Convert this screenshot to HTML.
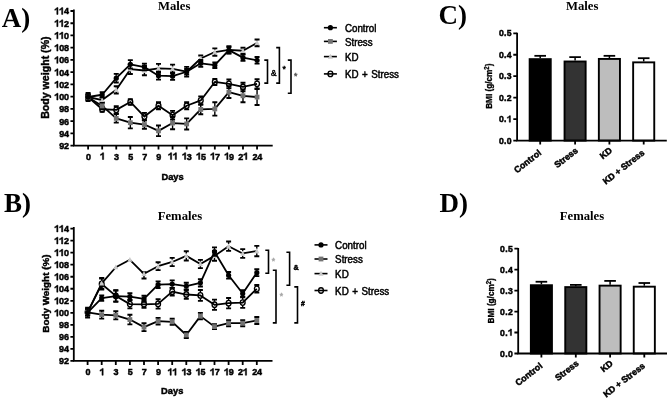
<!DOCTYPE html><html><head><meta charset="utf-8"><style>html,body{margin:0;padding:0;background:#fff;width:669px;height:398px;overflow:hidden}svg{display:block;will-change:transform}</style></head><body>
<svg width="669" height="398" viewBox="0 0 669 398">
<rect width="669" height="398" fill="#fff"/>
<text transform="translate(1.8 26.6)" font-family="Liberation Serif, serif" font-size="27" font-weight="bold">A)</text>
<text transform="translate(4 212)" font-family="Liberation Serif, serif" font-size="27" font-weight="bold">B)</text>
<text transform="translate(438.6 24.4)" font-family="Liberation Serif, serif" font-size="27" font-weight="bold">C)</text>
<text transform="translate(439.6 211.8)" font-family="Liberation Serif, serif" font-size="27" font-weight="bold">D)</text>
<text transform="translate(157.9 9.6)" font-family="Liberation Serif, serif" font-size="12.7" font-weight="bold">Males</text>
<text transform="translate(157.7 220.1)" font-family="Liberation Serif, serif" font-size="12.7" font-weight="bold">Females</text>
<text transform="translate(566 9.6)" font-family="Liberation Serif, serif" font-size="12.7" font-weight="bold">Males</text>
<text transform="translate(559.8 220.1)" font-family="Liberation Serif, serif" font-size="12.7" font-weight="bold">Females</text>
<path d="M73.85 10.4V145.6H271.8" fill="none" stroke="#000" stroke-width="1.8" stroke-linecap="square"/>
<path d="M70.45 145.6H73.85M70.45 133.36H73.85M70.45 121.13H73.85M70.45 108.89H73.85M70.45 96.65H73.85M70.45 84.42H73.85M70.45 72.18H73.85M70.45 59.95H73.85M70.45 47.71H73.85M70.45 35.47H73.85M70.45 23.24H73.85M70.45 11H73.85M88.1 145.6V149.6M102.18 145.6V149.6M116.26 145.6V149.6M130.34 145.6V149.6M144.42 145.6V149.6M158.5 145.6V149.6M172.58 145.6V149.6M186.66 145.6V149.6M200.74 145.6V149.6M214.82 145.6V149.6M228.9 145.6V149.6M242.98 145.6V149.6M257.06 145.6V149.6" stroke="#000" stroke-width="1.8"/>
<text transform="translate(59.14 149) scale(1 1.1)" font-family="Liberation Sans, sans-serif" font-size="9" font-weight="bold" stroke="#000" stroke-width="0.45" letter-spacing="-0.2">92</text>
<text transform="translate(59.14 136.76) scale(1 1.1)" font-family="Liberation Sans, sans-serif" font-size="9" font-weight="bold" stroke="#000" stroke-width="0.45" letter-spacing="-0.2">94</text>
<text transform="translate(59.14 124.53) scale(1 1.1)" font-family="Liberation Sans, sans-serif" font-size="9" font-weight="bold" stroke="#000" stroke-width="0.45" letter-spacing="-0.2">96</text>
<text transform="translate(59.14 112.29) scale(1 1.1)" font-family="Liberation Sans, sans-serif" font-size="9" font-weight="bold" stroke="#000" stroke-width="0.45" letter-spacing="-0.2">98</text>
<path transform="translate(54.33 100.05) scale(0.00439 -0.00483)" d="M840 0L560 0L560 1045Q380 905 110 835L110 1090Q430 1190 610 1409L840 1409Z" fill="#000" stroke="#000" stroke-width="102.4"/>
<text transform="translate(59.14 100.05) scale(1 1.1)" font-family="Liberation Sans, sans-serif" font-size="9" font-weight="bold" stroke="#000" stroke-width="0.45" letter-spacing="-0.2">00</text>
<path transform="translate(54.33 87.82) scale(0.00439 -0.00483)" d="M840 0L560 0L560 1045Q380 905 110 835L110 1090Q430 1190 610 1409L840 1409Z" fill="#000" stroke="#000" stroke-width="102.4"/>
<text transform="translate(59.14 87.82) scale(1 1.1)" font-family="Liberation Sans, sans-serif" font-size="9" font-weight="bold" stroke="#000" stroke-width="0.45" letter-spacing="-0.2">02</text>
<path transform="translate(54.33 75.58) scale(0.00439 -0.00483)" d="M840 0L560 0L560 1045Q380 905 110 835L110 1090Q430 1190 610 1409L840 1409Z" fill="#000" stroke="#000" stroke-width="102.4"/>
<text transform="translate(59.14 75.58) scale(1 1.1)" font-family="Liberation Sans, sans-serif" font-size="9" font-weight="bold" stroke="#000" stroke-width="0.45" letter-spacing="-0.2">04</text>
<path transform="translate(54.33 63.35) scale(0.00439 -0.00483)" d="M840 0L560 0L560 1045Q380 905 110 835L110 1090Q430 1190 610 1409L840 1409Z" fill="#000" stroke="#000" stroke-width="102.4"/>
<text transform="translate(59.14 63.35) scale(1 1.1)" font-family="Liberation Sans, sans-serif" font-size="9" font-weight="bold" stroke="#000" stroke-width="0.45" letter-spacing="-0.2">06</text>
<path transform="translate(54.33 51.11) scale(0.00439 -0.00483)" d="M840 0L560 0L560 1045Q380 905 110 835L110 1090Q430 1190 610 1409L840 1409Z" fill="#000" stroke="#000" stroke-width="102.4"/>
<text transform="translate(59.14 51.11) scale(1 1.1)" font-family="Liberation Sans, sans-serif" font-size="9" font-weight="bold" stroke="#000" stroke-width="0.45" letter-spacing="-0.2">08</text>
<path transform="translate(54.33 38.87) scale(0.00439 -0.00483)" d="M840 0L560 0L560 1045Q380 905 110 835L110 1090Q430 1190 610 1409L840 1409Z" fill="#000" stroke="#000" stroke-width="102.4"/>
<path transform="translate(59.14 38.87) scale(0.00439 -0.00483)" d="M840 0L560 0L560 1045Q380 905 110 835L110 1090Q430 1190 610 1409L840 1409Z" fill="#000" stroke="#000" stroke-width="102.4"/>
<text transform="translate(63.94 38.87) scale(1 1.1)" font-family="Liberation Sans, sans-serif" font-size="9" font-weight="bold" stroke="#000" stroke-width="0.45" letter-spacing="-0.2">0</text>
<path transform="translate(54.33 26.64) scale(0.00439 -0.00483)" d="M840 0L560 0L560 1045Q380 905 110 835L110 1090Q430 1190 610 1409L840 1409Z" fill="#000" stroke="#000" stroke-width="102.4"/>
<path transform="translate(59.14 26.64) scale(0.00439 -0.00483)" d="M840 0L560 0L560 1045Q380 905 110 835L110 1090Q430 1190 610 1409L840 1409Z" fill="#000" stroke="#000" stroke-width="102.4"/>
<text transform="translate(63.94 26.64) scale(1 1.1)" font-family="Liberation Sans, sans-serif" font-size="9" font-weight="bold" stroke="#000" stroke-width="0.45" letter-spacing="-0.2">2</text>
<path transform="translate(54.33 14.4) scale(0.00439 -0.00483)" d="M840 0L560 0L560 1045Q380 905 110 835L110 1090Q430 1190 610 1409L840 1409Z" fill="#000" stroke="#000" stroke-width="102.4"/>
<path transform="translate(59.14 14.4) scale(0.00439 -0.00483)" d="M840 0L560 0L560 1045Q380 905 110 835L110 1090Q430 1190 610 1409L840 1409Z" fill="#000" stroke="#000" stroke-width="102.4"/>
<text transform="translate(63.94 14.4) scale(1 1.1)" font-family="Liberation Sans, sans-serif" font-size="9" font-weight="bold" stroke="#000" stroke-width="0.45" letter-spacing="-0.2">4</text>
<text transform="translate(85.9 159.5) scale(1 1.1)" font-family="Liberation Sans, sans-serif" font-size="9" font-weight="bold" stroke="#000" stroke-width="0.45" letter-spacing="-0.2">0</text>
<path transform="translate(99.98 159.5) scale(0.00439 -0.00483)" d="M840 0L560 0L560 1045Q380 905 110 835L110 1090Q430 1190 610 1409L840 1409Z" fill="#000" stroke="#000" stroke-width="102.4"/>
<text transform="translate(114.06 159.5) scale(1 1.1)" font-family="Liberation Sans, sans-serif" font-size="9" font-weight="bold" stroke="#000" stroke-width="0.45" letter-spacing="-0.2">3</text>
<text transform="translate(128.14 159.5) scale(1 1.1)" font-family="Liberation Sans, sans-serif" font-size="9" font-weight="bold" stroke="#000" stroke-width="0.45" letter-spacing="-0.2">5</text>
<text transform="translate(142.22 159.5) scale(1 1.1)" font-family="Liberation Sans, sans-serif" font-size="9" font-weight="bold" stroke="#000" stroke-width="0.45" letter-spacing="-0.2">7</text>
<text transform="translate(156.3 159.5) scale(1 1.1)" font-family="Liberation Sans, sans-serif" font-size="9" font-weight="bold" stroke="#000" stroke-width="0.45" letter-spacing="-0.2">9</text>
<path transform="translate(167.97 159.5) scale(0.00439 -0.00483)" d="M840 0L560 0L560 1045Q380 905 110 835L110 1090Q430 1190 610 1409L840 1409Z" fill="#000" stroke="#000" stroke-width="102.4"/>
<path transform="translate(172.78 159.5) scale(0.00439 -0.00483)" d="M840 0L560 0L560 1045Q380 905 110 835L110 1090Q430 1190 610 1409L840 1409Z" fill="#000" stroke="#000" stroke-width="102.4"/>
<path transform="translate(182.05 159.5) scale(0.00439 -0.00483)" d="M840 0L560 0L560 1045Q380 905 110 835L110 1090Q430 1190 610 1409L840 1409Z" fill="#000" stroke="#000" stroke-width="102.4"/>
<text transform="translate(186.86 159.5) scale(1 1.1)" font-family="Liberation Sans, sans-serif" font-size="9" font-weight="bold" stroke="#000" stroke-width="0.45" letter-spacing="-0.2">3</text>
<path transform="translate(196.13 159.5) scale(0.00439 -0.00483)" d="M840 0L560 0L560 1045Q380 905 110 835L110 1090Q430 1190 610 1409L840 1409Z" fill="#000" stroke="#000" stroke-width="102.4"/>
<text transform="translate(200.94 159.5) scale(1 1.1)" font-family="Liberation Sans, sans-serif" font-size="9" font-weight="bold" stroke="#000" stroke-width="0.45" letter-spacing="-0.2">5</text>
<path transform="translate(210.21 159.5) scale(0.00439 -0.00483)" d="M840 0L560 0L560 1045Q380 905 110 835L110 1090Q430 1190 610 1409L840 1409Z" fill="#000" stroke="#000" stroke-width="102.4"/>
<text transform="translate(215.02 159.5) scale(1 1.1)" font-family="Liberation Sans, sans-serif" font-size="9" font-weight="bold" stroke="#000" stroke-width="0.45" letter-spacing="-0.2">7</text>
<path transform="translate(224.29 159.5) scale(0.00439 -0.00483)" d="M840 0L560 0L560 1045Q380 905 110 835L110 1090Q430 1190 610 1409L840 1409Z" fill="#000" stroke="#000" stroke-width="102.4"/>
<text transform="translate(229.1 159.5) scale(1 1.1)" font-family="Liberation Sans, sans-serif" font-size="9" font-weight="bold" stroke="#000" stroke-width="0.45" letter-spacing="-0.2">9</text>
<text transform="translate(238.37 159.5) scale(1 1.1)" font-family="Liberation Sans, sans-serif" font-size="9" font-weight="bold" stroke="#000" stroke-width="0.45" letter-spacing="-0.2">2</text>
<path transform="translate(243.18 159.5) scale(0.00439 -0.00483)" d="M840 0L560 0L560 1045Q380 905 110 835L110 1090Q430 1190 610 1409L840 1409Z" fill="#000" stroke="#000" stroke-width="102.4"/>
<text transform="translate(252.45 159.5) scale(1 1.1)" font-family="Liberation Sans, sans-serif" font-size="9" font-weight="bold" stroke="#000" stroke-width="0.45" letter-spacing="-0.2">24</text>
<polyline points="88.1,97 102.18,109.24 116.26,109.85 130.34,101.96 144.42,116.58 158.5,105.75 172.58,115.18 186.66,105.75 200.74,100.43 214.82,81.95 228.9,83.85 242.98,86.97 257.06,83.85" fill="none" stroke="#000" stroke-width="1.8" stroke-linejoin="round"/>
<path d="M116.26 106.18V106.95M116.26 112.75V113.52M144.42 112.91V113.68M144.42 119.48V120.25M158.5 102.08V102.85M158.5 108.65V109.42M172.58 110.89V112.28M172.58 118.08V119.46M186.66 102.08V102.85M186.66 108.65V109.42M200.74 96.39V97.53M200.74 103.33V104.47M214.82 78.89V79.05M214.82 84.85V85.01M228.9 79.57V80.95M228.9 86.75V88.13M242.98 82.69V84.07M242.98 89.87V91.25M257.06 79.26V80.95M257.06 86.75V88.44" stroke="#000" stroke-width="1.4" fill="none"/>
<path d="M85.6 94.56H90.6M85.6 99.45H90.6M99.68 106.79H104.68M99.68 111.69H104.68M113.76 106.18H118.76M113.76 113.52H118.76M127.84 99.21H132.84M127.84 104.71H132.84M141.92 112.91H146.92M141.92 120.25H146.92M156 102.08H161M156 109.42H161M170.08 110.89H175.08M170.08 119.46H175.08M184.16 102.08H189.16M184.16 109.42H189.16M198.24 96.39H203.24M198.24 104.47H203.24M212.32 78.89H217.32M212.32 85.01H217.32M226.4 79.57H231.4M226.4 88.13H231.4M240.48 82.69H245.48M240.48 91.25H245.48M254.56 79.26H259.56M254.56 88.44H259.56" stroke="#000" stroke-width="1.9" fill="none"/>
<ellipse cx="88.1" cy="97" rx="2.4" ry="2.75" fill="none" stroke="#000" stroke-width="1.35"/>
<ellipse cx="102.18" cy="109.24" rx="2.4" ry="2.75" fill="none" stroke="#000" stroke-width="1.35"/>
<ellipse cx="116.26" cy="109.85" rx="2.4" ry="2.75" fill="none" stroke="#000" stroke-width="1.35"/>
<ellipse cx="130.34" cy="101.96" rx="2.4" ry="2.75" fill="none" stroke="#000" stroke-width="1.35"/>
<ellipse cx="144.42" cy="116.58" rx="2.4" ry="2.75" fill="none" stroke="#000" stroke-width="1.35"/>
<ellipse cx="158.5" cy="105.75" rx="2.4" ry="2.75" fill="none" stroke="#000" stroke-width="1.35"/>
<ellipse cx="172.58" cy="115.18" rx="2.4" ry="2.75" fill="none" stroke="#000" stroke-width="1.35"/>
<ellipse cx="186.66" cy="105.75" rx="2.4" ry="2.75" fill="none" stroke="#000" stroke-width="1.35"/>
<ellipse cx="200.74" cy="100.43" rx="2.4" ry="2.75" fill="none" stroke="#000" stroke-width="1.35"/>
<ellipse cx="214.82" cy="81.95" rx="2.4" ry="2.75" fill="none" stroke="#000" stroke-width="1.35"/>
<ellipse cx="228.9" cy="83.85" rx="2.4" ry="2.75" fill="none" stroke="#000" stroke-width="1.35"/>
<ellipse cx="242.98" cy="86.97" rx="2.4" ry="2.75" fill="none" stroke="#000" stroke-width="1.35"/>
<ellipse cx="257.06" cy="83.85" rx="2.4" ry="2.75" fill="none" stroke="#000" stroke-width="1.35"/>
<polyline points="88.1,97 102.18,100.06 116.26,89.85 130.34,69.17 144.42,70.51 158.5,68.37 172.58,68.86 186.66,71.74 200.74,58.52 214.82,52.04 228.9,49.89 242.98,50.75 257.06,42.92" fill="none" stroke="#000" stroke-width="1.8" stroke-linejoin="round"/>
<path d="M88.1 94.56V94.8M88.1 99.2V99.45M102.18 97.62V97.86M102.18 102.26V102.51M116.26 86.18V87.65M116.26 92.05V93.52M130.34 64.39V66.97M130.34 71.37V73.94M144.42 65.74V68.31M144.42 72.71V75.29M158.5 63.84V66.17M158.5 70.57V72.9M172.58 64.64V66.66M172.58 71.06V73.08M186.66 66.84V69.54M186.66 73.94V76.63M200.74 55.46V56.32M200.74 60.72V61.58M214.82 48.37V49.84M214.82 54.24V55.71M228.9 46.22V47.69M228.9 52.09V53.57M242.98 47.69V48.55M242.98 52.95V53.81M257.06 39.55V40.72M257.06 45.12V46.28" stroke="#000" stroke-width="1.4" fill="none"/>
<path d="M85.6 94.56H90.6M85.6 99.45H90.6M99.68 97.62H104.68M99.68 102.51H104.68M113.76 86.18H118.76M113.76 93.52H118.76M127.84 64.39H132.84M127.84 73.94H132.84M141.92 65.74H146.92M141.92 75.29H146.92M156 63.84H161M156 72.9H161M170.08 64.64H175.08M170.08 73.08H175.08M184.16 66.84H189.16M184.16 76.63H189.16M198.24 55.46H203.24M198.24 61.58H203.24M212.32 48.37H217.32M212.32 55.71H217.32M226.4 46.22H231.4M226.4 53.57H231.4M240.48 47.69H245.48M240.48 53.81H245.48M254.56 39.55H259.56M254.56 46.28H259.56" stroke="#000" stroke-width="1.9" fill="none"/>
<path d="M88.1 94.2L90.6 99.1L85.6 99.1Z" fill="#c8c8c8"/>
<path d="M102.18 97.26L104.68 102.16L99.68 102.16Z" fill="#c8c8c8"/>
<path d="M116.26 87.05L118.76 91.95L113.76 91.95Z" fill="#c8c8c8"/>
<path d="M130.34 66.37L132.84 71.27L127.84 71.27Z" fill="#c8c8c8"/>
<path d="M144.42 67.71L146.92 72.61L141.92 72.61Z" fill="#c8c8c8"/>
<path d="M158.5 65.57L161 70.47L156 70.47Z" fill="#c8c8c8"/>
<path d="M172.58 66.06L175.08 70.96L170.08 70.96Z" fill="#c8c8c8"/>
<path d="M186.66 68.94L189.16 73.84L184.16 73.84Z" fill="#c8c8c8"/>
<path d="M200.74 55.72L203.24 60.62L198.24 60.62Z" fill="#c8c8c8"/>
<path d="M214.82 49.24L217.32 54.14L212.32 54.14Z" fill="#c8c8c8"/>
<path d="M228.9 47.09L231.4 51.99L226.4 51.99Z" fill="#c8c8c8"/>
<path d="M242.98 47.95L245.48 52.85L240.48 52.85Z" fill="#c8c8c8"/>
<path d="M257.06 40.12L259.56 45.02L254.56 45.02Z" fill="#c8c8c8"/>
<polyline points="88.1,97.31 102.18,105.94 116.26,118.36 130.34,122.7 144.42,124.54 158.5,130.84 172.58,123.07 186.66,123.92 200.74,109.42 214.82,108.94 228.9,92.11 242.98,95.78 257.06,97.07" fill="none" stroke="#000" stroke-width="1.8" stroke-linejoin="round"/>
<path d="M88.1 94.86V95.11M88.1 99.51V99.76M102.18 102.88V103.74M102.18 108.14V109M116.26 114.07V116.16M116.26 120.56V122.64M130.34 117.01V120.5M130.34 124.9V128.39M144.42 120.25V122.34M144.42 126.74V128.82M158.5 125.52V128.64M158.5 133.04V136.16M172.58 116.95V120.87M172.58 125.27V129.19M186.66 118.42V121.72M186.66 126.12V129.43M200.74 104.53V107.22M200.74 111.62V114.32M214.82 102.21V106.74M214.82 111.14V115.67M228.9 86.24V89.91M228.9 94.31V97.98M242.98 89.36V93.58M242.98 97.98V102.21M257.06 89.11V94.87M257.06 99.27V105.02" stroke="#000" stroke-width="1.4" fill="none"/>
<path d="M85.6 94.86H90.6M85.6 99.76H90.6M99.68 102.88H104.68M99.68 109H104.68M113.76 114.07H118.76M113.76 122.64H118.76M127.84 117.01H132.84M127.84 128.39H132.84M141.92 120.25H146.92M141.92 128.82H146.92M156 125.52H161M156 136.16H161M170.08 116.95H175.08M170.08 129.19H175.08M184.16 118.42H189.16M184.16 129.43H189.16M198.24 104.53H203.24M198.24 114.32H203.24M212.32 102.21H217.32M212.32 115.67H217.32M226.4 86.24H231.4M226.4 97.98H231.4M240.48 89.36H245.48M240.48 102.21H245.48M254.56 89.11H259.56M254.56 105.02H259.56" stroke="#000" stroke-width="1.9" fill="none"/>
<rect x="85.7" y="94.91" width="4.8" height="4.8" fill="#737373"/>
<rect x="99.78" y="103.54" width="4.8" height="4.8" fill="#737373"/>
<rect x="113.86" y="115.96" width="4.8" height="4.8" fill="#737373"/>
<rect x="127.94" y="120.3" width="4.8" height="4.8" fill="#737373"/>
<rect x="142.02" y="122.14" width="4.8" height="4.8" fill="#737373"/>
<rect x="156.1" y="128.44" width="4.8" height="4.8" fill="#737373"/>
<rect x="170.18" y="120.67" width="4.8" height="4.8" fill="#737373"/>
<rect x="184.26" y="121.52" width="4.8" height="4.8" fill="#737373"/>
<rect x="198.34" y="107.02" width="4.8" height="4.8" fill="#737373"/>
<rect x="212.42" y="106.54" width="4.8" height="4.8" fill="#737373"/>
<rect x="226.5" y="89.71" width="4.8" height="4.8" fill="#737373"/>
<rect x="240.58" y="93.38" width="4.8" height="4.8" fill="#737373"/>
<rect x="254.66" y="94.67" width="4.8" height="4.8" fill="#737373"/>
<polyline points="88.1,97 102.18,94.74 116.26,78.16 130.34,64.33 144.42,67.03 158.5,75.65 172.58,76.2 186.66,71.74 200.74,63.35 214.82,65.19 228.9,50.14 242.98,57.66 257.06,60.3" fill="none" stroke="#000" stroke-width="1.8" stroke-linejoin="round"/>
<path d="M88.1 93.03V94.6M88.1 99.4V100.98M102.18 92.29V92.34M102.18 97.14V97.19M116.26 73.88V75.76M116.26 80.56V82.44M130.34 60.17V61.93M130.34 66.73V68.49M144.42 63.66V64.63M144.42 69.43V70.39M158.5 71.68V73.25M158.5 78.05V79.63M172.58 72.53V73.8M172.58 78.6V79.87M186.66 68.98V69.34M186.66 74.14V74.49M200.74 59.99V60.95M200.74 65.75V66.72M214.82 62.44V62.79M214.82 67.59V67.94M228.9 47.08V47.74M228.9 52.54V53.2M242.98 54.61V55.26M242.98 60.06V60.72M257.06 56.93V57.9M257.06 62.7V63.66" stroke="#000" stroke-width="1.4" fill="none"/>
<path d="M85.6 93.03H90.6M85.6 100.98H90.6M99.68 92.29H104.68M99.68 97.19H104.68M113.76 73.88H118.76M113.76 82.44H118.76M127.84 60.17H132.84M127.84 68.49H132.84M141.92 63.66H146.92M141.92 70.39H146.92M156 71.68H161M156 79.63H161M170.08 72.53H175.08M170.08 79.87H175.08M184.16 68.98H189.16M184.16 74.49H189.16M198.24 59.99H203.24M198.24 66.72H203.24M212.32 62.44H217.32M212.32 67.94H217.32M226.4 47.08H231.4M226.4 53.2H231.4M240.48 54.61H245.48M240.48 60.72H245.48M254.56 56.93H259.56M254.56 63.66H259.56" stroke="#000" stroke-width="1.9" fill="none"/>
<circle cx="88.1" cy="97" r="2.6" fill="#000"/>
<circle cx="102.18" cy="94.74" r="2.6" fill="#000"/>
<circle cx="116.26" cy="78.16" r="2.6" fill="#000"/>
<circle cx="130.34" cy="64.33" r="2.6" fill="#000"/>
<circle cx="144.42" cy="67.03" r="2.6" fill="#000"/>
<circle cx="158.5" cy="75.65" r="2.6" fill="#000"/>
<circle cx="172.58" cy="76.2" r="2.6" fill="#000"/>
<circle cx="186.66" cy="71.74" r="2.6" fill="#000"/>
<circle cx="200.74" cy="63.35" r="2.6" fill="#000"/>
<circle cx="214.82" cy="65.19" r="2.6" fill="#000"/>
<circle cx="228.9" cy="50.14" r="2.6" fill="#000"/>
<circle cx="242.98" cy="57.66" r="2.6" fill="#000"/>
<circle cx="257.06" cy="60.3" r="2.6" fill="#000"/>
<text transform="translate(161.5 179.5) scale(1 1.05)" font-family="Liberation Sans, sans-serif" font-size="9.3" font-weight="bold" stroke="#000" stroke-width="0.45">Days</text>
<text transform="translate(49.2 77.6) rotate(-90)" font-family="Liberation Sans, sans-serif" font-size="10.6" font-weight="bold" text-anchor="middle" stroke="#000" stroke-width="0.45">Body weight (%)</text>
<path d="M323.9 27.7h13" stroke="#000" stroke-width="1.6"/>
<circle cx="330.4" cy="27.7" r="2.6" fill="#000"/>
<text transform="translate(344.9 31.9) scale(1 1.05)" font-family="Liberation Sans, sans-serif" font-size="9.8" stroke="#000" stroke-width="0.45" word-spacing="0.8">Control</text>
<path d="M323.9 41.4h13" stroke="#000" stroke-width="1.6"/>
<rect x="328" y="39" width="4.8" height="4.8" fill="#737373"/>
<text transform="translate(344.9 45.6) scale(1 1.05)" font-family="Liberation Sans, sans-serif" font-size="9.8" stroke="#000" stroke-width="0.45" word-spacing="0.8">Stress</text>
<path d="M323.9 56.6h13" stroke="#000" stroke-width="1.6"/>
<path d="M330.4 53.8L332.9 58.7L327.9 58.7Z" fill="#c8c8c8"/>
<text transform="translate(344.9 60.8) scale(1 1.05)" font-family="Liberation Sans, sans-serif" font-size="9.8" stroke="#000" stroke-width="0.45" word-spacing="0.8">KD</text>
<path d="M323.9 73.9h13" stroke="#000" stroke-width="1.6"/>
<ellipse cx="330.4" cy="73.9" rx="2.4" ry="2.75" fill="none" stroke="#000" stroke-width="1.35"/>
<text transform="translate(344.9 78.1) scale(1 1.05)" font-family="Liberation Sans, sans-serif" font-size="9.8" stroke="#000" stroke-width="0.45" word-spacing="0.8">KD + Stress</text>
<path d="M264.3 60.1H267.5V83.1H264.3" fill="none" stroke="#000" stroke-width="1.6"/>
<path d="M276.2 47.6H279.4V83.1H276.2" fill="none" stroke="#000" stroke-width="1.6"/>
<path d="M287.8 60.1H291V93.2H287.8" fill="none" stroke="#000" stroke-width="1.6"/>
<text transform="translate(270.9 75.6) scale(1 1.05)" font-family="Liberation Sans, sans-serif" font-size="8.2" stroke="#000" stroke-width="0.45">&amp;</text>
<text transform="translate(282.6 72.4) scale(1 1.05)" font-family="Liberation Sans, sans-serif" font-size="8.6" stroke="#000" stroke-width="0.45">*</text>
<text transform="translate(294.1 79.3) scale(1 1.05)" font-family="Liberation Sans, sans-serif" font-size="8.6" fill="#5a5a5a" stroke="#5a5a5a" stroke-width="0.45">*</text>
<path d="M73.8 228V360.95H271.6" fill="none" stroke="#000" stroke-width="1.8" stroke-linecap="square"/>
<path d="M70.4 360.95H73.8M70.4 348.92H73.8M70.4 336.89H73.8M70.4 324.85H73.8M70.4 312.82H73.8M70.4 300.79H73.8M70.4 288.76H73.8M70.4 276.73H73.8M70.4 264.7H73.8M70.4 252.66H73.8M70.4 240.63H73.8M70.4 228.6H73.8M87.6 360.95V364.95M101.7 360.95V364.95M115.8 360.95V364.95M129.9 360.95V364.95M144 360.95V364.95M158.1 360.95V364.95M172.2 360.95V364.95M186.3 360.95V364.95M200.4 360.95V364.95M214.5 360.95V364.95M228.6 360.95V364.95M242.7 360.95V364.95M256.8 360.95V364.95" stroke="#000" stroke-width="1.8"/>
<text transform="translate(59.09 364.35) scale(1 1.1)" font-family="Liberation Sans, sans-serif" font-size="9" font-weight="bold" stroke="#000" stroke-width="0.45" letter-spacing="-0.2">92</text>
<text transform="translate(59.09 352.32) scale(1 1.1)" font-family="Liberation Sans, sans-serif" font-size="9" font-weight="bold" stroke="#000" stroke-width="0.45" letter-spacing="-0.2">94</text>
<text transform="translate(59.09 340.29) scale(1 1.1)" font-family="Liberation Sans, sans-serif" font-size="9" font-weight="bold" stroke="#000" stroke-width="0.45" letter-spacing="-0.2">96</text>
<text transform="translate(59.09 328.25) scale(1 1.1)" font-family="Liberation Sans, sans-serif" font-size="9" font-weight="bold" stroke="#000" stroke-width="0.45" letter-spacing="-0.2">98</text>
<path transform="translate(54.28 316.22) scale(0.00439 -0.00483)" d="M840 0L560 0L560 1045Q380 905 110 835L110 1090Q430 1190 610 1409L840 1409Z" fill="#000" stroke="#000" stroke-width="102.4"/>
<text transform="translate(59.09 316.22) scale(1 1.1)" font-family="Liberation Sans, sans-serif" font-size="9" font-weight="bold" stroke="#000" stroke-width="0.45" letter-spacing="-0.2">00</text>
<path transform="translate(54.28 304.19) scale(0.00439 -0.00483)" d="M840 0L560 0L560 1045Q380 905 110 835L110 1090Q430 1190 610 1409L840 1409Z" fill="#000" stroke="#000" stroke-width="102.4"/>
<text transform="translate(59.09 304.19) scale(1 1.1)" font-family="Liberation Sans, sans-serif" font-size="9" font-weight="bold" stroke="#000" stroke-width="0.45" letter-spacing="-0.2">02</text>
<path transform="translate(54.28 292.16) scale(0.00439 -0.00483)" d="M840 0L560 0L560 1045Q380 905 110 835L110 1090Q430 1190 610 1409L840 1409Z" fill="#000" stroke="#000" stroke-width="102.4"/>
<text transform="translate(59.09 292.16) scale(1 1.1)" font-family="Liberation Sans, sans-serif" font-size="9" font-weight="bold" stroke="#000" stroke-width="0.45" letter-spacing="-0.2">04</text>
<path transform="translate(54.28 280.13) scale(0.00439 -0.00483)" d="M840 0L560 0L560 1045Q380 905 110 835L110 1090Q430 1190 610 1409L840 1409Z" fill="#000" stroke="#000" stroke-width="102.4"/>
<text transform="translate(59.09 280.13) scale(1 1.1)" font-family="Liberation Sans, sans-serif" font-size="9" font-weight="bold" stroke="#000" stroke-width="0.45" letter-spacing="-0.2">06</text>
<path transform="translate(54.28 268.1) scale(0.00439 -0.00483)" d="M840 0L560 0L560 1045Q380 905 110 835L110 1090Q430 1190 610 1409L840 1409Z" fill="#000" stroke="#000" stroke-width="102.4"/>
<text transform="translate(59.09 268.1) scale(1 1.1)" font-family="Liberation Sans, sans-serif" font-size="9" font-weight="bold" stroke="#000" stroke-width="0.45" letter-spacing="-0.2">08</text>
<path transform="translate(54.28 256.06) scale(0.00439 -0.00483)" d="M840 0L560 0L560 1045Q380 905 110 835L110 1090Q430 1190 610 1409L840 1409Z" fill="#000" stroke="#000" stroke-width="102.4"/>
<path transform="translate(59.09 256.06) scale(0.00439 -0.00483)" d="M840 0L560 0L560 1045Q380 905 110 835L110 1090Q430 1190 610 1409L840 1409Z" fill="#000" stroke="#000" stroke-width="102.4"/>
<text transform="translate(63.89 256.06) scale(1 1.1)" font-family="Liberation Sans, sans-serif" font-size="9" font-weight="bold" stroke="#000" stroke-width="0.45" letter-spacing="-0.2">0</text>
<path transform="translate(54.28 244.03) scale(0.00439 -0.00483)" d="M840 0L560 0L560 1045Q380 905 110 835L110 1090Q430 1190 610 1409L840 1409Z" fill="#000" stroke="#000" stroke-width="102.4"/>
<path transform="translate(59.09 244.03) scale(0.00439 -0.00483)" d="M840 0L560 0L560 1045Q380 905 110 835L110 1090Q430 1190 610 1409L840 1409Z" fill="#000" stroke="#000" stroke-width="102.4"/>
<text transform="translate(63.89 244.03) scale(1 1.1)" font-family="Liberation Sans, sans-serif" font-size="9" font-weight="bold" stroke="#000" stroke-width="0.45" letter-spacing="-0.2">2</text>
<path transform="translate(54.28 232) scale(0.00439 -0.00483)" d="M840 0L560 0L560 1045Q380 905 110 835L110 1090Q430 1190 610 1409L840 1409Z" fill="#000" stroke="#000" stroke-width="102.4"/>
<path transform="translate(59.09 232) scale(0.00439 -0.00483)" d="M840 0L560 0L560 1045Q380 905 110 835L110 1090Q430 1190 610 1409L840 1409Z" fill="#000" stroke="#000" stroke-width="102.4"/>
<text transform="translate(63.89 232) scale(1 1.1)" font-family="Liberation Sans, sans-serif" font-size="9" font-weight="bold" stroke="#000" stroke-width="0.45" letter-spacing="-0.2">4</text>
<text transform="translate(85.4 375.25) scale(1 1.1)" font-family="Liberation Sans, sans-serif" font-size="9" font-weight="bold" stroke="#000" stroke-width="0.45" letter-spacing="-0.2">0</text>
<path transform="translate(99.5 375.25) scale(0.00439 -0.00483)" d="M840 0L560 0L560 1045Q380 905 110 835L110 1090Q430 1190 610 1409L840 1409Z" fill="#000" stroke="#000" stroke-width="102.4"/>
<text transform="translate(113.6 375.25) scale(1 1.1)" font-family="Liberation Sans, sans-serif" font-size="9" font-weight="bold" stroke="#000" stroke-width="0.45" letter-spacing="-0.2">3</text>
<text transform="translate(127.7 375.25) scale(1 1.1)" font-family="Liberation Sans, sans-serif" font-size="9" font-weight="bold" stroke="#000" stroke-width="0.45" letter-spacing="-0.2">5</text>
<text transform="translate(141.8 375.25) scale(1 1.1)" font-family="Liberation Sans, sans-serif" font-size="9" font-weight="bold" stroke="#000" stroke-width="0.45" letter-spacing="-0.2">7</text>
<text transform="translate(155.9 375.25) scale(1 1.1)" font-family="Liberation Sans, sans-serif" font-size="9" font-weight="bold" stroke="#000" stroke-width="0.45" letter-spacing="-0.2">9</text>
<path transform="translate(167.59 375.25) scale(0.00439 -0.00483)" d="M840 0L560 0L560 1045Q380 905 110 835L110 1090Q430 1190 610 1409L840 1409Z" fill="#000" stroke="#000" stroke-width="102.4"/>
<path transform="translate(172.4 375.25) scale(0.00439 -0.00483)" d="M840 0L560 0L560 1045Q380 905 110 835L110 1090Q430 1190 610 1409L840 1409Z" fill="#000" stroke="#000" stroke-width="102.4"/>
<path transform="translate(181.69 375.25) scale(0.00439 -0.00483)" d="M840 0L560 0L560 1045Q380 905 110 835L110 1090Q430 1190 610 1409L840 1409Z" fill="#000" stroke="#000" stroke-width="102.4"/>
<text transform="translate(186.5 375.25) scale(1 1.1)" font-family="Liberation Sans, sans-serif" font-size="9" font-weight="bold" stroke="#000" stroke-width="0.45" letter-spacing="-0.2">3</text>
<path transform="translate(195.79 375.25) scale(0.00439 -0.00483)" d="M840 0L560 0L560 1045Q380 905 110 835L110 1090Q430 1190 610 1409L840 1409Z" fill="#000" stroke="#000" stroke-width="102.4"/>
<text transform="translate(200.6 375.25) scale(1 1.1)" font-family="Liberation Sans, sans-serif" font-size="9" font-weight="bold" stroke="#000" stroke-width="0.45" letter-spacing="-0.2">5</text>
<path transform="translate(209.89 375.25) scale(0.00439 -0.00483)" d="M840 0L560 0L560 1045Q380 905 110 835L110 1090Q430 1190 610 1409L840 1409Z" fill="#000" stroke="#000" stroke-width="102.4"/>
<text transform="translate(214.7 375.25) scale(1 1.1)" font-family="Liberation Sans, sans-serif" font-size="9" font-weight="bold" stroke="#000" stroke-width="0.45" letter-spacing="-0.2">7</text>
<path transform="translate(223.99 375.25) scale(0.00439 -0.00483)" d="M840 0L560 0L560 1045Q380 905 110 835L110 1090Q430 1190 610 1409L840 1409Z" fill="#000" stroke="#000" stroke-width="102.4"/>
<text transform="translate(228.8 375.25) scale(1 1.1)" font-family="Liberation Sans, sans-serif" font-size="9" font-weight="bold" stroke="#000" stroke-width="0.45" letter-spacing="-0.2">9</text>
<text transform="translate(238.09 375.25) scale(1 1.1)" font-family="Liberation Sans, sans-serif" font-size="9" font-weight="bold" stroke="#000" stroke-width="0.45" letter-spacing="-0.2">2</text>
<path transform="translate(242.9 375.25) scale(0.00439 -0.00483)" d="M840 0L560 0L560 1045Q380 905 110 835L110 1090Q430 1190 610 1409L840 1409Z" fill="#000" stroke="#000" stroke-width="102.4"/>
<text transform="translate(252.19 375.25) scale(1 1.1)" font-family="Liberation Sans, sans-serif" font-size="9" font-weight="bold" stroke="#000" stroke-width="0.45" letter-spacing="-0.2">24</text>
<polyline points="87.6,312.29 101.7,284.03 115.8,295.92 129.9,304.1 144,304.28 158.1,303.92 172.2,291.67 186.3,294.52 200.4,295.43 214.5,304.77 228.6,303.19 242.7,302.59 256.8,288.82" fill="none" stroke="#000" stroke-width="1.8" stroke-linejoin="round"/>
<path d="M87.6 309.26V309.39M87.6 315.19V315.32M101.7 278.57V281.13M101.7 286.93V289.49M115.8 290.46V293.02M115.8 298.82V301.37M129.9 299.86V301.2M129.9 307V308.35M144 300.65V301.38M144 307.18V307.92M158.1 299.19V301.02M158.1 306.82V308.65M172.2 287.91V288.77M172.2 294.57V295.43M186.3 290.28V291.62M186.3 297.42V298.77M200.4 289.97V292.53M200.4 298.33V300.89M214.5 299.61V301.87M214.5 307.67V309.92M228.6 297.98V300.29M228.6 306.09V308.41M242.7 297.25V299.69M242.7 305.49V307.92M256.8 285.06V285.92M256.8 291.72V292.58" stroke="#000" stroke-width="1.4" fill="none"/>
<path d="M85.1 309.26H90.1M85.1 315.32H90.1M99.2 278.57H104.2M99.2 289.49H104.2M113.3 290.46H118.3M113.3 301.37H118.3M127.4 299.86H132.4M127.4 308.35H132.4M141.5 300.65H146.5M141.5 307.92H146.5M155.6 299.19H160.6M155.6 308.65H160.6M169.7 287.91H174.7M169.7 295.43H174.7M183.8 290.28H188.8M183.8 298.77H188.8M197.9 289.97H202.9M197.9 300.89H202.9M212 299.61H217M212 309.92H217M226.1 297.98H231.1M226.1 308.41H231.1M240.2 297.25H245.2M240.2 307.92H245.2M254.3 285.06H259.3M254.3 292.58H259.3" stroke="#000" stroke-width="1.9" fill="none"/>
<ellipse cx="87.6" cy="312.29" rx="2.4" ry="2.75" fill="none" stroke="#000" stroke-width="1.35"/>
<ellipse cx="101.7" cy="284.03" rx="2.4" ry="2.75" fill="none" stroke="#000" stroke-width="1.35"/>
<ellipse cx="115.8" cy="295.92" rx="2.4" ry="2.75" fill="none" stroke="#000" stroke-width="1.35"/>
<ellipse cx="129.9" cy="304.1" rx="2.4" ry="2.75" fill="none" stroke="#000" stroke-width="1.35"/>
<ellipse cx="144" cy="304.28" rx="2.4" ry="2.75" fill="none" stroke="#000" stroke-width="1.35"/>
<ellipse cx="158.1" cy="303.92" rx="2.4" ry="2.75" fill="none" stroke="#000" stroke-width="1.35"/>
<ellipse cx="172.2" cy="291.67" rx="2.4" ry="2.75" fill="none" stroke="#000" stroke-width="1.35"/>
<ellipse cx="186.3" cy="294.52" rx="2.4" ry="2.75" fill="none" stroke="#000" stroke-width="1.35"/>
<ellipse cx="200.4" cy="295.43" rx="2.4" ry="2.75" fill="none" stroke="#000" stroke-width="1.35"/>
<ellipse cx="214.5" cy="304.77" rx="2.4" ry="2.75" fill="none" stroke="#000" stroke-width="1.35"/>
<ellipse cx="228.6" cy="303.19" rx="2.4" ry="2.75" fill="none" stroke="#000" stroke-width="1.35"/>
<ellipse cx="242.7" cy="302.59" rx="2.4" ry="2.75" fill="none" stroke="#000" stroke-width="1.35"/>
<ellipse cx="256.8" cy="288.82" rx="2.4" ry="2.75" fill="none" stroke="#000" stroke-width="1.35"/>
<polyline points="87.6,312.29 101.7,283.3 115.8,267.23 129.9,259.77 144,273.78 158.1,266.2 172.2,261.96 186.3,255.89 200.4,264.02 214.5,255.89 228.6,246.19 242.7,253.47 256.8,251.04" fill="none" stroke="#000" stroke-width="1.8" stroke-linejoin="round"/>
<path d="M87.6 309.26V310.09M87.6 314.49V315.32M101.7 277.84V281.1M101.7 285.5V288.76M144 275.98V278.57M158.1 262.26V264M158.1 268.4V270.14M172.2 257.83V259.76M172.2 264.16V266.08M186.3 251.22V253.69M186.3 258.09V260.56M200.4 259.9V261.82M200.4 266.22V268.14M214.5 251.04V253.69M214.5 258.09V260.74M228.6 241.46V243.99M228.6 248.39V250.92M242.7 249.1V251.27M242.7 255.67V257.83M256.8 245.83V248.84M256.8 253.24V256.26" stroke="#000" stroke-width="1.4" fill="none"/>
<path d="M85.1 309.26H90.1M85.1 315.32H90.1M99.2 277.84H104.2M99.2 288.76H104.2M141.5 272.27H146.5M141.5 278.57H146.5M155.6 262.26H160.6M155.6 270.14H160.6M169.7 257.83H174.7M169.7 266.08H174.7M183.8 251.22H188.8M183.8 260.56H188.8M197.9 259.9H202.9M197.9 268.14H202.9M212 251.04H217M212 260.74H217M226.1 241.46H231.1M226.1 250.92H231.1M240.2 249.1H245.2M240.2 257.83H245.2M254.3 245.83H259.3M254.3 256.26H259.3" stroke="#000" stroke-width="1.9" fill="none"/>
<path d="M87.6 309.49L90.1 314.39L85.1 314.39Z" fill="#c8c8c8"/>
<path d="M101.7 280.5L104.2 285.4L99.2 285.4Z" fill="#c8c8c8"/>
<path d="M115.8 264.43L118.3 269.33L113.3 269.33Z" fill="#c8c8c8"/>
<path d="M129.9 256.97L132.4 261.87L127.4 261.87Z" fill="#c8c8c8"/>
<path d="M144 270.98L146.5 275.88L141.5 275.88Z" fill="#c8c8c8"/>
<path d="M158.1 263.4L160.6 268.3L155.6 268.3Z" fill="#c8c8c8"/>
<path d="M172.2 259.16L174.7 264.06L169.7 264.06Z" fill="#c8c8c8"/>
<path d="M186.3 253.09L188.8 257.99L183.8 257.99Z" fill="#c8c8c8"/>
<path d="M200.4 261.22L202.9 266.12L197.9 266.12Z" fill="#c8c8c8"/>
<path d="M214.5 253.09L217 257.99L212 257.99Z" fill="#c8c8c8"/>
<path d="M228.6 243.39L231.1 248.29L226.1 248.29Z" fill="#c8c8c8"/>
<path d="M242.7 250.67L245.2 255.57L240.2 255.57Z" fill="#c8c8c8"/>
<path d="M256.8 248.24L259.3 253.14L254.3 253.14Z" fill="#c8c8c8"/>
<polyline points="87.6,312.29 101.7,314.71 115.8,315.32 129.9,319.56 144,327.14 158.1,321.2 172.2,321.81 186.3,335.03 200.4,316.11 214.5,326.6 228.6,323.2 242.7,323.2 256.8,320.47" fill="none" stroke="#000" stroke-width="1.8" stroke-linejoin="round"/>
<path d="M87.6 309.26V310.09M87.6 314.49V315.32M101.7 310.77V312.51M101.7 316.91V318.66M115.8 311.26V313.12M115.8 317.52V319.38M129.9 314.71V317.36M129.9 321.76V324.42M144 323.2V324.94M144 329.34V331.09M158.1 317.87V319M158.1 323.4V324.54M172.2 318.78V319.61M172.2 324.01V324.84M186.3 332V332.83M186.3 337.23V338.06M200.4 312.89V313.91M200.4 318.31V319.32M214.5 324.17V324.4M214.5 328.8V329.02M228.6 320.17V321M228.6 325.4V326.24M242.7 320.17V321M242.7 325.4V326.24M256.8 317.02V318.27M256.8 322.67V323.93" stroke="#000" stroke-width="1.4" fill="none"/>
<path d="M85.1 309.26H90.1M85.1 315.32H90.1M99.2 310.77H104.2M99.2 318.66H104.2M113.3 311.26H118.3M113.3 319.38H118.3M127.4 314.71H132.4M127.4 324.42H132.4M141.5 323.2H146.5M141.5 331.09H146.5M155.6 317.87H160.6M155.6 324.54H160.6M169.7 318.78H174.7M169.7 324.84H174.7M183.8 332H188.8M183.8 338.06H188.8M197.9 312.89H202.9M197.9 319.32H202.9M212 324.17H217M212 329.02H217M226.1 320.17H231.1M226.1 326.24H231.1M240.2 320.17H245.2M240.2 326.24H245.2M254.3 317.02H259.3M254.3 323.93H259.3" stroke="#000" stroke-width="1.9" fill="none"/>
<rect x="85.2" y="309.89" width="4.8" height="4.8" fill="#737373"/>
<rect x="99.3" y="312.31" width="4.8" height="4.8" fill="#737373"/>
<rect x="113.4" y="312.92" width="4.8" height="4.8" fill="#737373"/>
<rect x="127.5" y="317.16" width="4.8" height="4.8" fill="#737373"/>
<rect x="141.6" y="324.74" width="4.8" height="4.8" fill="#737373"/>
<rect x="155.7" y="318.8" width="4.8" height="4.8" fill="#737373"/>
<rect x="169.8" y="319.41" width="4.8" height="4.8" fill="#737373"/>
<rect x="183.9" y="332.63" width="4.8" height="4.8" fill="#737373"/>
<rect x="198" y="313.71" width="4.8" height="4.8" fill="#737373"/>
<rect x="212.1" y="324.2" width="4.8" height="4.8" fill="#737373"/>
<rect x="226.2" y="320.8" width="4.8" height="4.8" fill="#737373"/>
<rect x="240.3" y="320.8" width="4.8" height="4.8" fill="#737373"/>
<rect x="254.4" y="318.07" width="4.8" height="4.8" fill="#737373"/>
<polyline points="87.6,312.59 101.7,298.1 115.8,296.1 129.9,296.7 144,298.83 158.1,284.7 172.2,284.09 186.3,286.03 200.4,282.82 214.5,251.65 228.6,275.3 242.7,293.49 256.8,272.69" fill="none" stroke="#000" stroke-width="1.8" stroke-linejoin="round"/>
<path d="M87.6 307.74V310.19M87.6 314.99V317.44M101.7 295.37V295.7M101.7 300.5V300.83M115.8 290.28V293.7M115.8 298.5V301.92M129.9 293.25V294.3M129.9 299.1V300.16M144 295.79V296.43M144 301.23V301.86M158.1 281.36V282.3M158.1 287.1V288.03M172.2 280.33V281.69M172.2 286.49V287.85M186.3 282.7V283.63M186.3 288.43V289.37M200.4 279.18V280.42M200.4 285.22V286.46M214.5 247.4V249.25M214.5 254.05V255.89M228.6 271.96V272.9M228.6 277.7V278.63M242.7 290.15V291.09M242.7 295.89V296.82M256.8 269.29V270.29M256.8 275.09V276.09" stroke="#000" stroke-width="1.4" fill="none"/>
<path d="M85.1 307.74H90.1M85.1 317.44H90.1M99.2 295.37H104.2M99.2 300.83H104.2M113.3 290.28H118.3M113.3 301.92H118.3M127.4 293.25H132.4M127.4 300.16H132.4M141.5 295.79H146.5M141.5 301.86H146.5M155.6 281.36H160.6M155.6 288.03H160.6M169.7 280.33H174.7M169.7 287.85H174.7M183.8 282.7H188.8M183.8 289.37H188.8M197.9 279.18H202.9M197.9 286.46H202.9M212 247.4H217M212 255.89H217M226.1 271.96H231.1M226.1 278.63H231.1M240.2 290.15H245.2M240.2 296.82H245.2M254.3 269.29H259.3M254.3 276.09H259.3" stroke="#000" stroke-width="1.9" fill="none"/>
<circle cx="87.6" cy="312.59" r="2.6" fill="#000"/>
<circle cx="101.7" cy="298.1" r="2.6" fill="#000"/>
<circle cx="115.8" cy="296.1" r="2.6" fill="#000"/>
<circle cx="129.9" cy="296.7" r="2.6" fill="#000"/>
<circle cx="144" cy="298.83" r="2.6" fill="#000"/>
<circle cx="158.1" cy="284.7" r="2.6" fill="#000"/>
<circle cx="172.2" cy="284.09" r="2.6" fill="#000"/>
<circle cx="186.3" cy="286.03" r="2.6" fill="#000"/>
<circle cx="200.4" cy="282.82" r="2.6" fill="#000"/>
<circle cx="214.5" cy="251.65" r="2.6" fill="#000"/>
<circle cx="228.6" cy="275.3" r="2.6" fill="#000"/>
<circle cx="242.7" cy="293.49" r="2.6" fill="#000"/>
<circle cx="256.8" cy="272.69" r="2.6" fill="#000"/>
<text transform="translate(161.1 393.6) scale(1 1.05)" font-family="Liberation Sans, sans-serif" font-size="9.3" font-weight="bold" stroke="#000" stroke-width="0.45">Days</text>
<text transform="translate(49.2 293.6) rotate(-90)" font-family="Liberation Sans, sans-serif" font-size="9.9" font-weight="bold" text-anchor="middle" stroke="#000" stroke-width="0.45">Body Weight (%)</text>
<path d="M314.5 244.9h13" stroke="#000" stroke-width="1.6"/>
<circle cx="321" cy="244.9" r="2.6" fill="#000"/>
<text transform="translate(335.1 249.1) scale(1 1.05)" font-family="Liberation Sans, sans-serif" font-size="9.8" stroke="#000" stroke-width="0.45" word-spacing="0.8">Control</text>
<path d="M314.5 259h13" stroke="#000" stroke-width="1.6"/>
<rect x="318.6" y="256.6" width="4.8" height="4.8" fill="#737373"/>
<text transform="translate(335.1 263.2) scale(1 1.05)" font-family="Liberation Sans, sans-serif" font-size="9.8" stroke="#000" stroke-width="0.45" word-spacing="0.8">Stress</text>
<path d="M314.5 273.6h13" stroke="#000" stroke-width="1.6"/>
<path d="M321 270.8L323.5 275.7L318.5 275.7Z" fill="#c8c8c8"/>
<text transform="translate(335.1 277.8) scale(1 1.05)" font-family="Liberation Sans, sans-serif" font-size="9.8" stroke="#000" stroke-width="0.45" word-spacing="0.8">KD</text>
<path d="M314.5 290.5h13" stroke="#000" stroke-width="1.6"/>
<ellipse cx="321" cy="290.5" rx="2.4" ry="2.75" fill="none" stroke="#000" stroke-width="1.35"/>
<text transform="translate(335.1 294.7) scale(1 1.05)" font-family="Liberation Sans, sans-serif" font-size="9.8" stroke="#000" stroke-width="0.45" word-spacing="0.8">KD + Stress</text>
<path d="M265.3 250.3H268.5V273.3H265.3" fill="none" stroke="#000" stroke-width="1.6"/>
<path d="M286.4 252.2H289.6V285.2H286.4" fill="none" stroke="#000" stroke-width="1.6"/>
<path d="M272.8 270.2H276V322.9H272.8" fill="none" stroke="#000" stroke-width="1.6"/>
<path d="M294.3 286.9H297.5V322.9H294.3" fill="none" stroke="#000" stroke-width="1.6"/>
<text transform="translate(271.8 263.6) scale(1 1.05)" font-family="Liberation Sans, sans-serif" font-size="8.6" fill="#a8a8a8" stroke="#a8a8a8" stroke-width="0.45">*</text>
<text transform="translate(279.8 299.4) scale(1 1.05)" font-family="Liberation Sans, sans-serif" font-size="8.6" fill="#a8a8a8" stroke="#a8a8a8" stroke-width="0.45">*</text>
<text transform="translate(293.6 270.4) scale(1 1.05)" font-family="Liberation Sans, sans-serif" font-size="7.2" font-weight="bold" stroke="#000" stroke-width="0.45">&amp;</text>
<text transform="translate(301 306) scale(1 1.05)" font-family="Liberation Sans, sans-serif" font-size="6.8" font-weight="bold" stroke="#000" stroke-width="0.45">#</text>
<path d="M540.2 58.19V55.83" stroke="#000" stroke-width="1.5"/>
<path d="M534.4 55.83H546" stroke="#000" stroke-width="1.8"/>
<rect x="529.65" y="59.14" width="21.1" height="81.46" fill="#000" stroke="#000" stroke-width="1.9"/>
<path d="M575.1 60.55V57.12" stroke="#000" stroke-width="1.5"/>
<path d="M569.3 57.12H580.9" stroke="#000" stroke-width="1.8"/>
<rect x="564.55" y="61.5" width="21.1" height="79.1" fill="#333" stroke="#000" stroke-width="1.9"/>
<path d="M609.4 57.98V55.83" stroke="#000" stroke-width="1.5"/>
<path d="M603.6 55.83H615.2" stroke="#000" stroke-width="1.8"/>
<rect x="598.85" y="58.93" width="21.1" height="81.67" fill="#bdbdbd" stroke="#000" stroke-width="1.9"/>
<path d="M643.7 61.41V58.19" stroke="#000" stroke-width="1.5"/>
<path d="M637.9 58.19H649.5" stroke="#000" stroke-width="1.8"/>
<rect x="633.15" y="62.36" width="21.1" height="78.24" fill="#fff" stroke="#000" stroke-width="1.9"/>
<path d="M517.1 32.7V140.6H666.8" fill="none" stroke="#000" stroke-width="1.8"/>
<path d="M513.3 140.6H517.1M513.3 119.14H517.1M513.3 97.68H517.1M513.3 76.22H517.1M513.3 54.76H517.1M513.3 33.3H517.1M540.2 140.6V144.6M575.1 140.6V144.6M609.4 140.6V144.6M643.7 140.6V144.6" stroke="#000" stroke-width="1.8"/>
<text transform="translate(498.91 143.7) scale(1 1.1)" font-family="Liberation Sans, sans-serif" font-size="8.7" font-weight="bold" stroke="#000" stroke-width="0.45" letter-spacing="0.35">0.0</text>
<text transform="translate(498.91 122.24) scale(1 1.1)" font-family="Liberation Sans, sans-serif" font-size="8.7" font-weight="bold" stroke="#000" stroke-width="0.45" letter-spacing="0.35">0.</text>
<path transform="translate(506.86 122.24) scale(0.00425 -0.00467)" d="M840 0L560 0L560 1045Q380 905 110 835L110 1090Q430 1190 610 1409L840 1409Z" fill="#000" stroke="#000" stroke-width="105.93"/>
<text transform="translate(498.91 100.78) scale(1 1.1)" font-family="Liberation Sans, sans-serif" font-size="8.7" font-weight="bold" stroke="#000" stroke-width="0.45" letter-spacing="0.35">0.2</text>
<text transform="translate(498.91 79.32) scale(1 1.1)" font-family="Liberation Sans, sans-serif" font-size="8.7" font-weight="bold" stroke="#000" stroke-width="0.45" letter-spacing="0.35">0.3</text>
<text transform="translate(498.91 57.86) scale(1 1.1)" font-family="Liberation Sans, sans-serif" font-size="8.7" font-weight="bold" stroke="#000" stroke-width="0.45" letter-spacing="0.35">0.4</text>
<text transform="translate(498.91 36.4) scale(1 1.1)" font-family="Liberation Sans, sans-serif" font-size="8.7" font-weight="bold" stroke="#000" stroke-width="0.45" letter-spacing="0.35">0.5</text>
<text transform="translate(541.9 154) rotate(-38)" font-family="Liberation Sans, sans-serif" font-size="8.9" font-weight="bold" text-anchor="end" stroke="#000" stroke-width="0.45">Control</text>
<text transform="translate(578.6 151.6) rotate(-38)" font-family="Liberation Sans, sans-serif" font-size="8.9" font-weight="bold" text-anchor="end" stroke="#000" stroke-width="0.45">Stress</text>
<text transform="translate(612.9 151.6) rotate(-38)" font-family="Liberation Sans, sans-serif" font-size="8.9" font-weight="bold" text-anchor="end" stroke="#000" stroke-width="0.45">KD</text>
<text transform="translate(645.1 154) rotate(-38)" font-family="Liberation Sans, sans-serif" font-size="8.9" font-weight="bold" text-anchor="end" stroke="#000" stroke-width="0.45">KD + Stress</text>
<text transform="translate(492.2 86.2) rotate(-90) scale(1 1.1)" text-anchor="middle" font-size="8.2" font-weight="bold" font-family="Liberation Sans, sans-serif" stroke="#000" stroke-width="0.3">BMI (g/cm<tspan font-size="6" dy="-3.2">2</tspan><tspan dy="3.2">)</tspan></text>
<path d="M541.4 284.27V281.75" stroke="#000" stroke-width="1.5"/>
<path d="M535.6 281.75H547.2" stroke="#000" stroke-width="1.8"/>
<rect x="530.85" y="285.22" width="21.1" height="68.28" fill="#000" stroke="#000" stroke-width="1.9"/>
<path d="M575.8 286.15V284.9" stroke="#000" stroke-width="1.5"/>
<path d="M570 284.9H581.6" stroke="#000" stroke-width="1.8"/>
<rect x="565.25" y="287.1" width="21.1" height="66.4" fill="#333" stroke="#000" stroke-width="1.9"/>
<path d="M610.1 284.69V280.91" stroke="#000" stroke-width="1.5"/>
<path d="M604.3 280.91H615.9" stroke="#000" stroke-width="1.8"/>
<rect x="599.55" y="285.64" width="21.1" height="67.86" fill="#bdbdbd" stroke="#000" stroke-width="1.9"/>
<path d="M644.3 285.73V283.01" stroke="#000" stroke-width="1.5"/>
<path d="M638.5 283.01H650.1" stroke="#000" stroke-width="1.8"/>
<rect x="633.75" y="286.68" width="21.1" height="66.82" fill="#fff" stroke="#000" stroke-width="1.9"/>
<path d="M518.2 248V353.5H667" fill="none" stroke="#000" stroke-width="1.8"/>
<path d="M514.4 353.5H518.2M514.4 332.52H518.2M514.4 311.54H518.2M514.4 290.56H518.2M514.4 269.58H518.2M514.4 248.6H518.2M541.4 353.5V357.5M575.8 353.5V357.5M610.1 353.5V357.5M644.3 353.5V357.5" stroke="#000" stroke-width="1.8"/>
<text transform="translate(500.01 356.6) scale(1 1.1)" font-family="Liberation Sans, sans-serif" font-size="8.7" font-weight="bold" stroke="#000" stroke-width="0.45" letter-spacing="0.35">0.0</text>
<text transform="translate(500.01 335.62) scale(1 1.1)" font-family="Liberation Sans, sans-serif" font-size="8.7" font-weight="bold" stroke="#000" stroke-width="0.45" letter-spacing="0.35">0.</text>
<path transform="translate(507.96 335.62) scale(0.00425 -0.00467)" d="M840 0L560 0L560 1045Q380 905 110 835L110 1090Q430 1190 610 1409L840 1409Z" fill="#000" stroke="#000" stroke-width="105.93"/>
<text transform="translate(500.01 314.64) scale(1 1.1)" font-family="Liberation Sans, sans-serif" font-size="8.7" font-weight="bold" stroke="#000" stroke-width="0.45" letter-spacing="0.35">0.2</text>
<text transform="translate(500.01 293.66) scale(1 1.1)" font-family="Liberation Sans, sans-serif" font-size="8.7" font-weight="bold" stroke="#000" stroke-width="0.45" letter-spacing="0.35">0.3</text>
<text transform="translate(500.01 272.68) scale(1 1.1)" font-family="Liberation Sans, sans-serif" font-size="8.7" font-weight="bold" stroke="#000" stroke-width="0.45" letter-spacing="0.35">0.4</text>
<text transform="translate(500.01 251.7) scale(1 1.1)" font-family="Liberation Sans, sans-serif" font-size="8.7" font-weight="bold" stroke="#000" stroke-width="0.45" letter-spacing="0.35">0.5</text>
<text transform="translate(543.1 366.9) rotate(-38)" font-family="Liberation Sans, sans-serif" font-size="8.9" font-weight="bold" text-anchor="end" stroke="#000" stroke-width="0.45">Control</text>
<text transform="translate(579.3 364.5) rotate(-38)" font-family="Liberation Sans, sans-serif" font-size="8.9" font-weight="bold" text-anchor="end" stroke="#000" stroke-width="0.45">Stress</text>
<text transform="translate(613.6 364.5) rotate(-38)" font-family="Liberation Sans, sans-serif" font-size="8.9" font-weight="bold" text-anchor="end" stroke="#000" stroke-width="0.45">KD</text>
<text transform="translate(645.7 366.9) rotate(-38)" font-family="Liberation Sans, sans-serif" font-size="8.9" font-weight="bold" text-anchor="end" stroke="#000" stroke-width="0.45">KD + Stress</text>
<text transform="translate(494.2 300.8) rotate(-90) scale(1 1.1)" text-anchor="middle" font-size="8.2" font-weight="bold" font-family="Liberation Sans, sans-serif" stroke="#000" stroke-width="0.3">BMI (g/cm<tspan font-size="6" dy="-3.2">2</tspan><tspan dy="3.2">)</tspan></text>
</svg></body></html>
